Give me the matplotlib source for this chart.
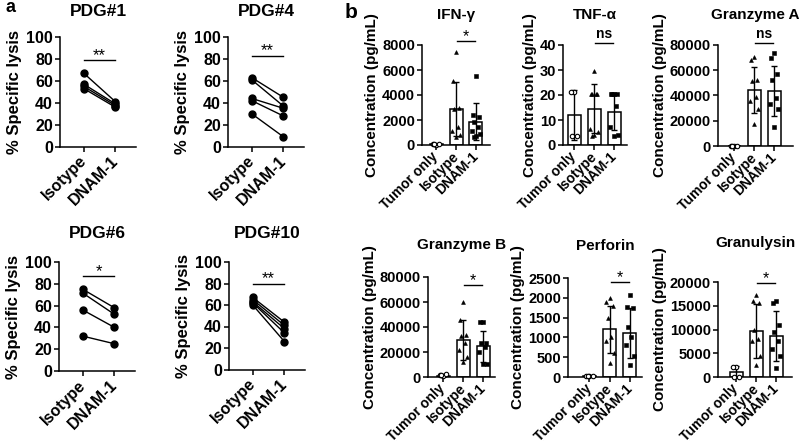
import numpy as np
import matplotlib
matplotlib.use('Agg')
import matplotlib.pyplot as plt

plt.rcParams['font.family'] = ['Liberation Sans', 'DejaVu Sans']
plt.rcParams['font.weight'] = 'bold'
plt.rcParams['axes.labelweight'] = 'bold'
plt.rcParams['axes.titleweight'] = 'bold'
plt.rcParams['axes.linewidth'] = 1.1

# ---- panel a: paired % specific lysis ----
lysis_groups = ['Isotype', 'DNAM-1']
pdg_names = ['PDG#1', 'PDG#4', 'PDG#6', 'PDG#10']
pdg1_iso = [67, 57, 55, 53]
pdg1_dnam = [41, 39, 37.5, 36]
pdg4_iso = [63, 61, 44, 42, 30]
pdg4_dnam = [45, 37, 35, 28, 9]
pdg6_iso = [75, 71.5, 56, 32]
pdg6_dnam = [58, 52, 40, 25]
pdg10_iso = [67, 65, 63, 62, 60]
pdg10_dnam = [44, 41, 38, 34, 26]
pdg_sig = ['**', '**', '*', '**']
pdg_sig_y = [79, 83, 87, 80]

# ---- panel b: cytokine concentrations ----
cyto_groups = ['Tumor only', 'Isotype', 'DNAM-1']
cyto_names = ['IFN-γ', 'TNF-α', 'Granzyme A', 'Granzyme B', 'Perforin', 'Granulysin']

ifng_mean = [50, 2850, 1870]
ifng_sd = [30, 2150, 1480]
ifng_tumor = [30, 60, 90, 40]
ifng_iso = [7470, 5120, 2950, 2900, 1400, 1100, 800, 600]
ifng_dnam = [5500, 2400, 2200, 1800, 1400, 1100, 900, 700, 600]

tnf_mean = [12, 14.5, 13]
tnf_sd = [10, 9.8, 7.2]
tnf_tumor = [21, 21, 3.5, 3.5]
tnf_iso = [29.5, 20.5, 20.5, 20.5, 20.5, 6.5, 5, 4, 3.5]
tnf_dnam = [20.5, 20.5, 20.5, 20.5, 15.5, 7, 4, 3.5]

gza_mean = [200, 44300, 43700]
gza_sd = [100, 18000, 19800]
gza_tumor = [150, 250, 200, 300]
gza_iso = [70400, 68300, 52600, 51800, 38800, 35500, 29700, 17200]
gza_dnam = [74000, 70000, 57000, 52000, 38000, 33000, 29000, 15000]

gzb_mean = [1000, 30000, 24700]
gzb_sd = [800, 16000, 12300]
gzb_tumor = [500, 1500, 2500, 1800]
gzb_iso = [60000, 46000, 34000, 33000, 27000, 21500, 16000, 12000]
gzb_dnam = [44000, 44000, 27000, 27000, 23700, 20200, 10500, 10500]

perf_mean = [25, 1200, 1110]
perf_sd = [10, 600, 620]
perf_tumor = [15, 25, 30, 35]
perf_iso = [2000, 1900, 1800, 1480, 1000, 900, 600, 350]
perf_dnam = [2080, 1780, 1740, 1270, 1020, 810, 530, 300]

gran_mean = [1100, 9700, 8600]
gran_sd = [1200, 5700, 5200]
gran_tumor = [2200, 2200, 100, 100]
gran_iso = [17200, 16000, 15500, 9800, 8000, 7500, 4400, 2500]
gran_dnam = [16000, 15500, 11000, 9500, 7500, 6000, 4500, 2000]

cyto_sig = ['*', 'ns', 'ns', '*', '*', '*']
cyto_sig_y = [8300, 40.7, 81700, 73500, 2400, 19700]
cyto_ymax = [8000, 40, 80000, 80000, 2500, 20000]
cyto_ystep = [2000, 10, 20000, 20000, 500, 5000]

W, H = 800, 444
fig = plt.figure(figsize=(8, 4.44), dpi=100)


def add_ax(left, top, right, bottom):
    return fig.add_axes([left / W, 1 - bottom / H, (right - left) / W, (bottom - top) / H])


def clean(ax, fs):
    ax.spines['top'].set_visible(False)
    ax.spines['right'].set_visible(False)
    ax.tick_params(width=1.1, length=3.5, labelsize=fs, pad=1.5)


def spread(n):
    pattern = np.array([0, -0.16, 0.16, -0.08, 0.08, -0.2, 0.2, 0.0, -0.12, 0.12])
    return pattern[np.arange(n) % len(pattern)]


# panel a
pdg_iso = [pdg1_iso, pdg4_iso, pdg6_iso, pdg10_iso]
pdg_dnam = [pdg1_dnam, pdg4_dnam, pdg6_dnam, pdg10_dnam]
pdg_rects = [(60, 37, 136, 146.7), (228, 37, 304, 146.7),
             (59, 262, 135, 371), (229, 262, 305, 369.5)]
pdg_pad = [15, 15, 17, 17]

for k in range(4):
    ax = add_ax(*pdg_rects[k])
    for a, b in zip(pdg_iso[k], pdg_dnam[k]):
        ax.plot([0, 1], [a, b], color='black', lw=1.0, marker='o', ms=5, zorder=3)
    ax.set_xlim(-0.75, 1.65)
    ax.set_ylim(0, 100)
    ax.set_yticks(range(0, 101, 20))
    ax.set_xticks([0, 1])
    ax.set_xticklabels(lysis_groups, rotation=45, ha='right', va='center',
                       rotation_mode='anchor')
    clean(ax, 11.5)
    ax.tick_params(axis='x', pad=5)
    ax.set_ylabel('% Specific lysis', fontsize=12, labelpad=3)
    ax.set_title(pdg_names[k], fontsize=12.5, pad=pdg_pad[k])
    ax.plot([0, 1], [pdg_sig_y[k]] * 2, color='black', lw=1.0, clip_on=False)
    ax.annotate(pdg_sig[k], (0.5, pdg_sig_y[k]), xytext=(0, -2), textcoords='offset points',
                ha='center', va='bottom', fontsize=12, fontweight='normal',
                annotation_clip=False)

# panel b
cyto_means = [ifng_mean, tnf_mean, gza_mean, gzb_mean, perf_mean, gran_mean]
cyto_sds = [ifng_sd, tnf_sd, gza_sd, gzb_sd, perf_sd, gran_sd]
cyto_pts = [[ifng_tumor, ifng_iso, ifng_dnam], [tnf_tumor, tnf_iso, tnf_dnam],
            [gza_tumor, gza_iso, gza_dnam], [gzb_tumor, gzb_iso, gzb_dnam],
            [perf_tumor, perf_iso, perf_dnam], [gran_tumor, gran_iso, gran_dnam]]
cyto_rects = [(422, 45, 490, 145), (563, 45, 627, 145), (718, 45, 793, 146),
              (428, 277, 495, 377), (568, 278, 642, 377), (718, 282, 792, 377)]
cyto_xlim = [(-0.7, 2.7), (-0.55, 2.65), (-0.8, 2.95),
             (-0.75, 2.6), (-1.05, 2.6), (-0.9, 2.8)]
cyto_pad = [19, 19, 19, 20.5, 20.5, 25.5]
marker_style = [dict(marker='o', ms=3.2, mfc='white', mec='black', mew=0.8),
                dict(marker='^', ms=2.8, mfc='black', mec='black', mew=0.4),
                dict(marker='s', ms=2.5, mfc='black', mec='black', mew=0.4)]

for k in range(6):
    ax = add_ax(*cyto_rects[k])
    x = np.arange(3)
    ax.bar(x, cyto_means[k], width=0.65, color='white', edgecolor='black',
           linewidth=1.1, zorder=1)
    ax.errorbar(x, cyto_means[k], yerr=cyto_sds[k], fmt='none', ecolor='black',
                elinewidth=1.0, capsize=2.5, capthick=1.0, zorder=2)
    for i in range(3):
        vals = cyto_pts[k][i]
        ax.plot(i + spread(len(vals)), vals, ls='none', zorder=3, clip_on=False,
                **marker_style[i])
    ax.set_xlim(*cyto_xlim[k])
    ax.set_ylim(0, cyto_ymax[k])
    ax.set_yticks(np.arange(0, cyto_ymax[k] + 1, cyto_ystep[k]))
    ax.set_xticks(x)
    ax.set_xticklabels(cyto_groups, rotation=45, ha='right', va='center',
                       rotation_mode='anchor')
    clean(ax, 10.5)
    ax.tick_params(axis='x', labelsize=10, pad=3.5)
    ax.set_ylabel('Concentration (pg/mL)', fontsize=11, labelpad=2)
    ax.set_title(cyto_names[k], fontsize=11, pad=cyto_pad[k])
    ax.plot([1.05, 1.95], [cyto_sig_y[k]] * 2, color='black', lw=1.0, clip_on=False)
    if cyto_sig[k] == 'ns':
        ax.annotate('ns', (1.5, cyto_sig_y[k]), xytext=(0, 1.5), textcoords='offset points',
                    ha='center', va='bottom', fontsize=10, annotation_clip=False)
    else:
        ax.annotate('*', (1.5, cyto_sig_y[k]), xytext=(0, -2), textcoords='offset points',
                    ha='center', va='bottom', fontsize=11.5, fontweight='normal',
                    annotation_clip=False)

fig.text(5 / W, 1 - 8 / H, 'a', fontsize=13, fontweight='bold', ha='left', va='center')
fig.text(345 / W, 1 - 12 / H, 'b', fontsize=15, fontweight='bold', ha='left', va='center')

fig.savefig('out.png', dpi=100, facecolor='white')
